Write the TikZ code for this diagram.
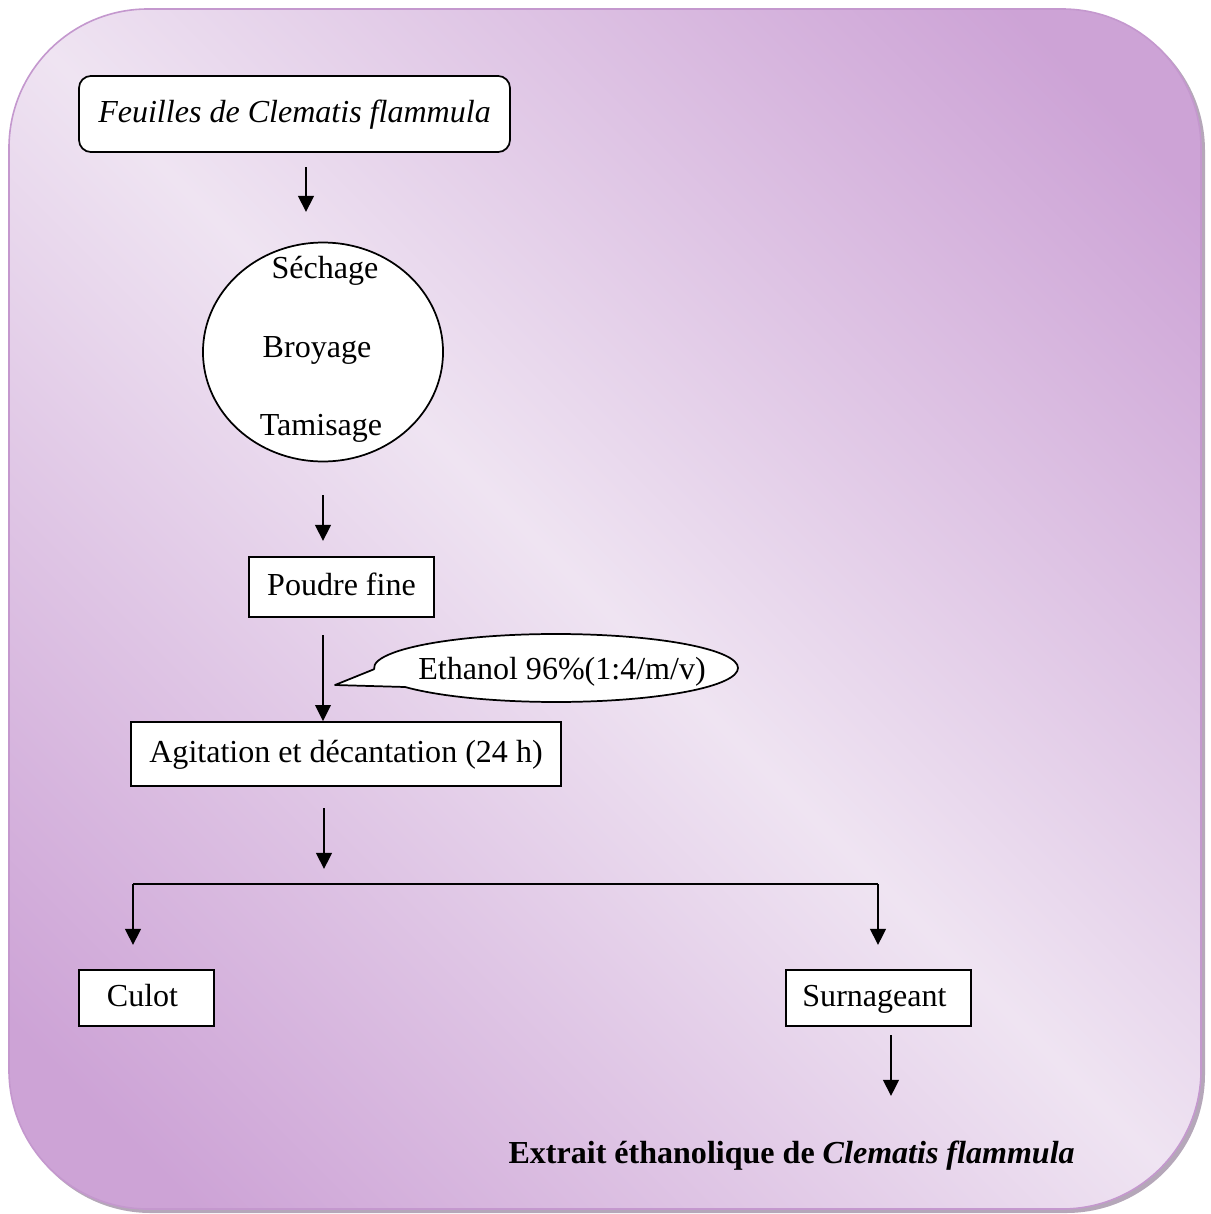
\documentclass[tikz,border=0pt]{standalone}
\usepackage{fontspec}
\setmainfont{Liberation Serif}
\usetikzlibrary{arrows.meta,shapes.geometric}
\definecolor{bgdark}{RGB}{205,163,214}
\definecolor{bglight}{RGB}{239,228,242}
\definecolor{bgedge}{RGB}{196,152,206}
\definecolor{bgshadow}{RGB}{150,130,155}
\pgfdeclareverticalshading{bgshade}{100bp}{color(0bp)=(bgdark); color(20bp)=(bgdark); color(50bp)=(bglight); color(80bp)=(bgdark); color(100bp)=(bgdark)}
\begin{document}
\begin{tikzpicture}[x=0.3745pt,y=-0.3745pt,
  every node/.style={font=\fontsize{12}{14}\selectfont},
  stepbox/.style={draw=black,fill=white,line width=0.65pt,rectangle,inner sep=0pt,text height=8.5pt,text depth=2.5pt},
  flow/.style={line width=0.85pt,-{Triangle[length=6pt,width=5.8pt]}},
  plain/.style={line width=0.85pt}]
\useasboundingbox (0,0) rectangle (1210,1214);
% background panel
\fill[bgshadow,opacity=0.7,rounded corners=52pt] (12,12) rectangle (1205,1213);
\shade[shading=bgshade,shading angle=-45,rounded corners=52pt,draw=bgedge,line width=0.6pt] (9,9) rectangle (1201,1209);

% nodes
\node[stepbox,rounded corners=4.5pt,minimum width=161.4pt,minimum height=28.5pt] (feuilles) at (294.5,114) {\itshape Feuilles de Clematis flammula};
\node[draw=black,fill=white,line width=0.65pt,ellipse,inner sep=0pt,minimum width=89.9pt,minimum height=82pt] (circ) at (323,352) {};
\node[anchor=base] (sech) at (325,278) {Séchage};
\node[anchor=base] (broy) at (317,357) {Broyage};
\node[anchor=base] (tami) at (321,435) {Tamisage};
\node[stepbox,minimum width=69.3pt,minimum height=22.5pt] (poudre) at (341.5,587) {Poudre fine};
\node[stepbox,minimum width=161.0pt,minimum height=24pt] (agit) at (346,754) {Agitation et décantation (24 h)};
\node[stepbox,minimum width=50.6pt,minimum height=21pt] (culot) at (146.5,998) {\hspace{-3pt}Culot};
\node[stepbox,minimum width=69.3pt,minimum height=21pt] (surn) at (878.5,998) {\hspace{-3pt}Surnageant};
\node[anchor=base west,inner sep=0pt] (extrait) at (508,1163) {\bfseries Extrait éthanolique de \textit{Clematis flammula}};

% callout
\coordinate (tailA) at (374.1,669.2);
\coordinate (tailtip) at (335,685);
\coordinate (tailB) at (405.1,687);
\draw[fill=white,line width=0.65pt,line join=round] (tailA) -- (tailtip) -- (tailB)
  arc[start angle=214,end angle=542,x radius=68.16pt,y radius=12.73pt] -- cycle;
\node[anchor=base] (eth) at (562,679) {Ethanol 96\%(1:4/m/v)};

% arrows
\coordinate (a1s) at (306,167); \coordinate (a1e) at (306,212);
\coordinate (a2s) at (323,495); \coordinate (a2e) at (323,541);
\coordinate (a3s) at (323,635);
\coordinate (a4s) at (324,808); \coordinate (a4e) at (324,869);
\coordinate (sl) at (133,884); \coordinate (sr) at (878,884);
\coordinate (sle) at (133,945); \coordinate (sre) at (878,945);
\coordinate (a5s) at (891,1035); \coordinate (a5e) at (891,1096);
\draw[flow] (a1s) -- (a1e);
\draw[flow] (a2s) -- (a2e);
\draw[flow] (a3s) -- (a3s |- agit.north);
\draw[flow] (a4s) -- (a4e);
\draw[plain] (sl) -- (sr);
\draw[flow] (sl) -- (sle);
\draw[flow] (sr) -- (sre);
\draw[flow] (a5s) -- (a5e);
\end{tikzpicture}
\end{document}
